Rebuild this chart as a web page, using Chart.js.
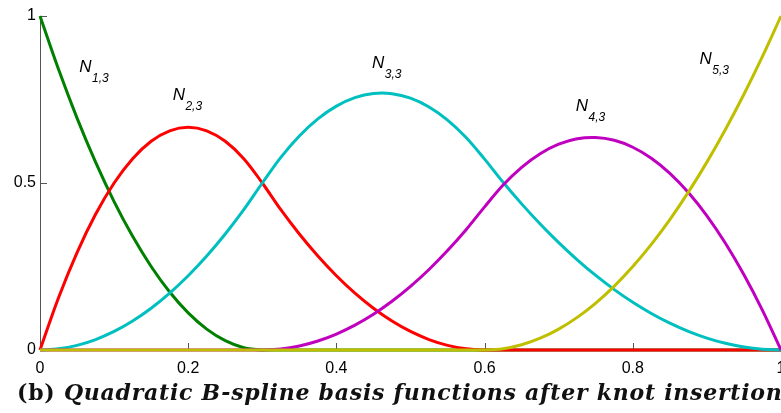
<!DOCTYPE html>
<html>
<head>
<meta charset="utf-8">
<script src="https://cdn.jsdelivr.net/npm/chart.js@4.4.1/dist/chart.umd.min.js"></script>
<style>
  html, body { margin: 0; padding: 0; background: #fff; overflow: hidden; width: 781px; height: 413px; }
  #wrap { position: relative; width: 781px; height: 413px; overflow: hidden; }
  #c { position: absolute; left: 0; top: 0; }
  #caption {
    position: absolute; left: 17px; top: 379px; white-space: nowrap;
    font-family: "DejaVu Serif", serif; font-weight: bold; font-size: 22px; letter-spacing: 0.75px; color: #111;
  }
  #caption i { font-style: italic; }
</style>
</head>
<body>
<div id="wrap">
  <canvas id="c" width="800" height="413"></canvas>
  <div id="caption">(b) <i>Quadratic B-spline basis functions after knot insertion</i></div>
</div>
<script>
// Parameter samples u in [0, 1]
const u = [0, 0.025, 0.05, 0.075, 0.1, 0.125, 0.15, 0.175, 0.2, 0.225, 0.25, 0.275, 0.3,
  0.325, 0.35, 0.375, 0.4, 0.425, 0.45, 0.475, 0.5, 0.525, 0.55, 0.575, 0.6,
  0.625, 0.65, 0.675, 0.7, 0.725, 0.75, 0.775, 0.8, 0.825, 0.85, 0.875, 0.9, 0.925, 0.95, 0.975, 1];

// Quadratic basis functions, knots {0,0,0,0.3,0.6,1,1,1}
const N13 = [1, 0.8403, 0.6944, 0.5625, 0.4444, 0.3403, 0.25, 0.1736, 0.1111, 0.0625, 0.0278, 0.0069, 0,
  0, 0, 0, 0, 0, 0, 0, 0, 0, 0, 0, 0,
  0, 0, 0, 0, 0, 0, 0, 0, 0, 0, 0, 0, 0, 0, 0, 0];
const N23 = [0, 0.1563, 0.2917, 0.4063, 0.5, 0.5729, 0.625, 0.6563, 0.6667, 0.6563, 0.625, 0.5729, 0.5,
  0.4201, 0.3472, 0.2813, 0.2222, 0.1701, 0.125, 0.0868, 0.0556, 0.0313, 0.0139, 0.0035, 0,
  0, 0, 0, 0, 0, 0, 0, 0, 0, 0, 0, 0, 0, 0, 0, 0];
const N33 = [0, 0.0035, 0.0139, 0.0313, 0.0556, 0.0868, 0.125, 0.1701, 0.2222, 0.2813, 0.3472, 0.4201, 0.5,
  0.5769, 0.6409, 0.692, 0.7302, 0.7555, 0.7679, 0.7674, 0.754, 0.7277, 0.6885, 0.6364, 0.5714,
  0.5022, 0.4375, 0.3772, 0.3214, 0.2701, 0.2232, 0.1808, 0.1429, 0.1094, 0.0804, 0.0558, 0.0357, 0.0201, 0.0089, 0.0022, 0];
const N43 = [0, 0, 0, 0, 0, 0, 0, 0, 0, 0, 0, 0, 0,
  0.003, 0.0119, 0.0268, 0.0476, 0.0744, 0.1071, 0.1458, 0.1905, 0.2411, 0.2976, 0.3601, 0.4286,
  0.4939, 0.5469, 0.5876, 0.6161, 0.6323, 0.6362, 0.6278, 0.6071, 0.5742, 0.529, 0.4715, 0.4018, 0.3198, 0.2254, 0.1189, 0];
const N53 = [0, 0, 0, 0, 0, 0, 0, 0, 0, 0, 0, 0, 0,
  0, 0, 0, 0, 0, 0, 0, 0, 0, 0, 0, 0,
  0.0039, 0.0156, 0.0352, 0.0625, 0.0977, 0.1406, 0.1914, 0.25, 0.3164, 0.3906, 0.4727, 0.5625, 0.6602, 0.7656, 0.8789, 1];

const xTicks = [0, 0.2, 0.4, 0.6, 0.8, 1];
const xTickLabels = ['0', '0.2', '0.4', '0.6', '0.8', '1'];
const yTicks = [0, 0.5, 1];
const yTickLabels = ['0', '0.5', '1'];

const seriesNames = ['N1,3', 'N2,3', 'N3,3', 'N4,3', 'N5,3'];
const seriesValues = [N13, N23, N33, N43, N53];
const seriesColors = ['#008000', '#ff0000', '#00bfbf', '#bf00bf', '#bfbf00'];

// Curve name placement in data units: [u, value]
const nameAnchors = [[0.053, 0.832], [0.179, 0.748], [0.448, 0.844], [0.723, 0.715], [0.890, 0.856]];

const axisColor = '#555555';

// Inward tick marks, drawn on the chart's own scales
const innerTicks = {
  id: 'innerTicks',
  beforeDatasetsDraw(chart) {
    const { ctx, chartArea, scales } = chart;
    ctx.save();
    ctx.strokeStyle = axisColor;
    ctx.lineWidth = 1;
    ctx.beginPath();
    xTicks.forEach(v => {
      const px = Math.round(scales.x.getPixelForValue(v)) + 0.5;
      ctx.moveTo(px, chartArea.bottom);
      ctx.lineTo(px, chartArea.bottom - 7);
    });
    yTicks.forEach(v => {
      const py = Math.round(scales.y.getPixelForValue(v)) + 0.5;
      ctx.moveTo(chartArea.left, py);
      ctx.lineTo(chartArea.left + 7, py);
    });
    ctx.stroke();
    ctx.restore();
  }
};

// Curve names N_{i,3} with subscripts
const curveNames = {
  id: 'curveNames',
  afterDatasetsDraw(chart) {
    const { ctx, scales } = chart;
    ctx.save();
    ctx.fillStyle = '#000';
    ctx.textBaseline = 'alphabetic';
    ctx.textAlign = 'left';
    seriesNames.forEach((name, i) => {
      const main = name[0];
      const sub = name.slice(1);
      const px = scales.x.getPixelForValue(nameAnchors[i][0]);
      const py = scales.y.getPixelForValue(nameAnchors[i][1]);
      ctx.font = 'italic 17px "Liberation Sans", Arial, sans-serif';
      ctx.fillText(main, px, py);
      const w = ctx.measureText(main).width;
      ctx.font = 'italic 12px "Liberation Sans", Arial, sans-serif';
      ctx.fillText(sub, px + w + 0.5, py + 10);
    });
    ctx.restore();
  }
};

const datasets = seriesValues.map((vals, i) => ({
  label: seriesNames[i],
  data: u.map((x, k) => ({ x: x, y: vals[k] })),
  borderColor: seriesColors[i],
  borderWidth: 3,
  pointRadius: 0,
  fill: false,
  tension: 0.35,
  clip: false,
  order: seriesValues.length - i
}));

new Chart(document.getElementById('c'), {
  type: 'line',
  data: { datasets },
  plugins: [innerTicks, curveNames],
  options: {
    responsive: false,
    animation: false,
    events: [],
    layout: { padding: { left: 0, top: 16, right: 19, bottom: 0 } },
    plugins: { legend: { display: false }, tooltip: { enabled: false }, title: { display: false } },
    scales: {
      x: {
        type: 'linear', min: 0, max: 1,
        afterFit(scale) { scale.height = 63; },
        afterBuildTicks(scale) { scale.ticks = xTicks.map(v => ({ value: v })); },
        ticks: {
          color: '#000', padding: 9, maxRotation: 0,
          font: { family: '"Liberation Sans", Arial, sans-serif', size: 16 },
          callback: (v) => xTickLabels[xTicks.indexOf(v)]
        },
        grid: { display: false, drawTicks: false },
        border: { display: true, color: axisColor, width: 1 }
      },
      y: {
        type: 'linear', min: 0, max: 1,
        afterFit(scale) { scale.width = 40; },
        afterBuildTicks(scale) { scale.ticks = yTicks.map(v => ({ value: v })); },
        ticks: {
          color: '#000', padding: 4,
          font: { family: '"Liberation Sans", Arial, sans-serif', size: 16 },
          callback: (v) => yTickLabels[yTicks.indexOf(v)]
        },
        grid: { display: false, drawTicks: false },
        border: { display: true, color: axisColor, width: 1 }
      }
    }
  }
});
</script>
</body>
</html>
